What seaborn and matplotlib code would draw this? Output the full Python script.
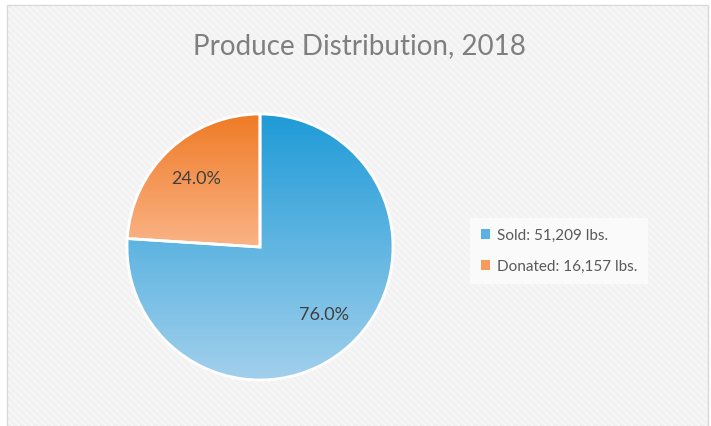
import numpy as np
import matplotlib.pyplot as plt
import seaborn as sns
from matplotlib.colors import LinearSegmentedColormap
from matplotlib.patches import Rectangle

# data
labels = ["Sold: 51,209 lbs.", "Donated: 16,157 lbs."]
pounds = [51209, 16157]
title = "Produce Distribution, 2018"

# gradient colours (top -> bottom) and flat legend colours
top_colors = ["#1F9BD7", "#EF7B26"]
bottom_colors = ["#A2D0EC", "#FAB386"]
legend_colors = ["#5BB2E2", "#F79A5C"]


def main():
    sns.set_style("white")
    plt.rcParams["font.family"] = ["Lato", "DejaVu Sans"]
    plt.rcParams["hatch.linewidth"] = 0.8

    fig = plt.figure(figsize=(7.11, 4.26), dpi=100)
    fig.patch.set_facecolor("white")

    # chart area: light grey with faint diagonal hatch and thin border
    fig.patches.append(Rectangle((7 / 711, 0), 701 / 711, 421 / 426,
                                 transform=fig.transFigure, facecolor="#F2F2F2",
                                 edgecolor="#D9D9D9", lw=1, zorder=-10))
    fig.patches.append(Rectangle((8 / 711, 0), 699 / 711, 420 / 426,
                                 transform=fig.transFigure, facecolor="none",
                                 edgecolor="#FAFAFA", hatch="\\\\\\\\\\", lw=0, zorder=-9))

    # pie
    r = 133
    ax = fig.add_axes([(260 - r) / 711, (426 - 247 - r) / 426, 2 * r / 711, 2 * r / 426])
    wedges, texts, autotexts = ax.pie(
        pounds, startangle=90, counterclock=False, autopct="%1.1f%%",
        pctdistance=0.7, radius=1,
        wedgeprops=dict(edgecolor="white", linewidth=2),
        textprops=dict(color="#404040", fontsize=13))

    extents = [(-1, 1, -1, 1), (-1, 0, 0, 1)]
    grad = np.linspace(0, 1, 256).reshape(-1, 1)
    for w, top, bot, ext in zip(wedges, top_colors, bottom_colors, extents):
        cmap = LinearSegmentedColormap.from_list("g", [top, bot])
        im = ax.imshow(grad, cmap=cmap, extent=ext, origin="upper",
                       aspect="auto", zorder=0.5)
        im.set_clip_path(w)
        w.set_facecolor("none")
        w.set_zorder(1)
    for t in autotexts:
        t.set_zorder(3)

    ax.set_xlim(-1, 1)
    ax.set_ylim(-1, 1)
    ax.set_aspect("equal")
    ax.axis("off")

    # title
    fig.text(359 / 711, 1 - 46 / 426, title, ha="center", va="center",
             fontsize=20, color="#7F7F7F")

    # legend
    handles = [Rectangle((0, 0), 1, 1, facecolor=c, edgecolor="none") for c in legend_colors]
    leg = fig.legend(handles, labels, loc="center left",
                     bbox_to_anchor=(470 / 711, 1 - 251 / 426),
                     borderaxespad=0,
                     fontsize=11, labelcolor="#595959",
                     handlelength=0.6, handleheight=0.6, handletextpad=0.45,
                     labelspacing=1.1, frameon=True, fancybox=False,
                     borderpad=0.7)
    leg.get_frame().set_facecolor("#FAFAFA")
    leg.get_frame().set_edgecolor("none")
    leg.get_frame().set_alpha(1)

    fig.savefig("out.png", dpi=100, facecolor=fig.get_facecolor())


if __name__ == "__main__":
    main()
